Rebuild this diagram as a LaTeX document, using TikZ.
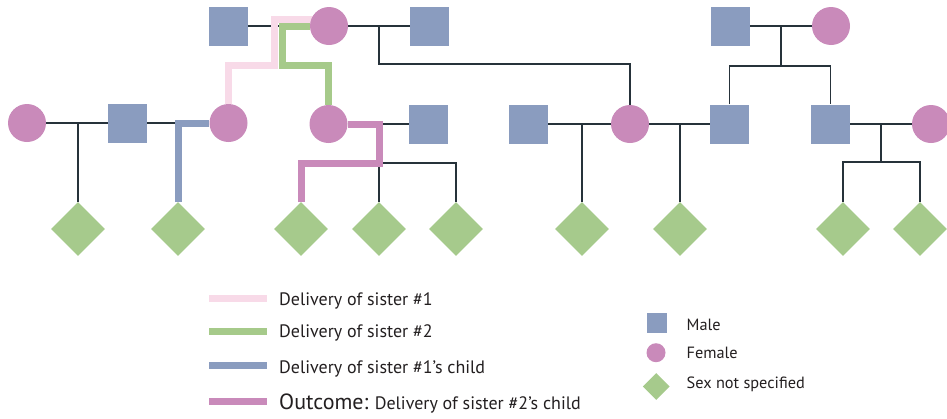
\documentclass[tikz,border=0pt]{standalone}
\usepackage{fontspec}
\setmainfont{PT Sans}
\usetikzlibrary{shapes.geometric,calc,backgrounds}

\definecolor{malefill}{HTML}{8A9CBF}
\definecolor{femalefill}{HTML}{C98ABA}
\definecolor{unknownfill}{HTML}{A6CA8C}
\definecolor{sisone}{HTML}{F8DAE8}
\definecolor{sistwo}{HTML}{A6CA8A}
\definecolor{childone}{HTML}{8A9CBF}
\definecolor{childtwo}{HTML}{C98ABA}
\definecolor{kin}{HTML}{26323A}
\definecolor{ink}{HTML}{231F20}

\begin{document}
\begin{tikzpicture}[x=1pt,y=-1pt,
  male/.style={rectangle,fill=malefill,minimum size=39pt,inner sep=0pt},
  female/.style={circle,fill=femalefill,minimum size=38pt,inner sep=0pt},
  unk/.style={diamond,fill=unknownfill,minimum size=54pt,inner sep=0pt},
  kinline/.style={draw=kin,line width=1.2pt},
  route/.style={line width=7pt},
  routeone/.style={route,draw=sisone},
  routetwo/.style={route,draw=sistwo},
  routethree/.style={route,draw=childone},
  routefour/.style={route,draw=childtwo},
  legtext/.style={anchor=base west,inner sep=0pt,text=ink,font=\fontsize{18}{21}\selectfont},
  keytext/.style={anchor=base west,inner sep=0pt,text=ink,font=\fontsize{16.3}{19}\selectfont}
]
\useasboundingbox (0,0) rectangle (947,418);

% ---- generation I
\node[male]   (m1) at (228.5,26) {};
\node[female] (f1) at (329,26) {};
\node[male]   (m2) at (429.5,26) {};
\node[male]   (m3) at (730.5,26) {};
\node[female] (f2) at (831,26) {};

% ---- generation II
\node[female] (f3) at (27,123) {};
\node[male]   (m4) at (127.5,123) {};
\node[female] (f4) at (228.5,123) {};
\node[female] (f5) at (328.5,124) {};
\node[male]   (m5) at (428.5,124) {};
\node[male]   (m6) at (528.5,124) {};
\node[female] (f6) at (630,124) {};
\node[male]   (m7) at (729.5,124) {};
\node[male]   (m8) at (830.5,124) {};
\node[female] (f7) at (931,124) {};

% ---- generation III
\foreach \n/\x in {d1/78,d2/178,d3/301,d4/379,d5/456,d6/582,d7/680,d8/843,d9/920}
  \node[unk] (\n) at (\x,229) {};

% ---- junction points
\coordinate (c1) at (379,26);
\coordinate (c2) at (379,64);
\coordinate (c3) at (78,123);
\coordinate (c4) at (379,124);
\coordinate (c5) at (379,163);
\coordinate (c6) at (456,163);
\coordinate (c7) at (582,124);
\coordinate (c8) at (680,124);
\coordinate (c9) at (781,26);
\coordinate (c10) at (781,66);
\coordinate (c11) at (729.5,66);
\coordinate (c12) at (830.5,66);
\coordinate (c13) at (881,124);
\coordinate (c14) at (881,162);
\coordinate (c15) at (843,162);
\coordinate (c16) at (920,162);
\coordinate (p1) at (274,65);
\coordinate (g1) at (282,65);
\coordinate (b1) at (178,123);
\coordinate (q1) at (379,163);

\begin{scope}[on background layer]
  % couples and descent lines
  \draw[kinline] (m1) -- (f1);
  \draw[kinline] (f1) -- (m2);
  \draw[kinline] (c1) |- (c2) -| (f6);
  \draw[kinline] (f3) -- (m4);
  \draw[kinline] (c3) -- (d1);
  \draw[kinline] (m4) -- (f4);
  \draw[kinline] (f5) -- (m5);
  \draw[kinline] (c4) -- (d4);
  \draw[kinline] (c5) -- (c6) -- (d5);
  \draw[kinline] (m6) -- (f6);
  \draw[kinline] (c7) -- (d6);
  \draw[kinline] (f6) -- (m7);
  \draw[kinline] (c8) -- (d7);
  \draw[kinline] (m3) -- (f2);
  \draw[kinline] (c9) -- (c10);
  \draw[kinline] (m7) |- (c11) -- (c12) -| (m8);
  \draw[kinline] (m8) -- (f7);
  \draw[kinline] (c13) -- (c14);
  \draw[kinline] (d8) |- (c15) -- (c16) -| (d9);

  % delivery routes
  \draw[routeone]   ($(f1)+(0,-7)$) -| (p1) -| (f4);
  \draw[routetwo]   (f1) -| (g1) -| (f5);
  \draw[routethree] (f4) -- (b1) -- (d2);
  \draw[routefour]  (f5) -| (q1) -| (d3);
\end{scope}

% ---- route legend
\node[legtext] (l1) at (279,305) {Delivery of sister \#1};
\node[legtext] (l2) at (279,337.5) {Delivery of sister \#2};
\node[legtext] (l3) at (279,373) {Delivery of sister \#1’s child};
\node[legtext] (l4) at (279,409) {{\fontsize{22}{25}\selectfont Outcome:} Delivery of sister \#2’s child};
\coordinate (s1) at (209,298.5);  \coordinate (e1) at (267,298.5);
\coordinate (s2) at (209,331.5);  \coordinate (e2) at (267,331.5);
\coordinate (s3) at (209,365.3);  \coordinate (e3) at (267,365.3);
\coordinate (s4) at (209,401);    \coordinate (e4) at (267,401);
\draw[routeone]   (s1) -- (e1);
\draw[routetwo]   (s2) -- (e2);
\draw[routethree] (s3) -- (e3);
\draw[routefour]  (s4) -- (e4);

% ---- symbol key
\node[male,minimum size=20pt]   (k1) at (657,322.5) {};
\node[female,minimum size=19pt] (k2) at (656,352.7) {};
\node[unk,minimum size=27pt]    (k3) at (656.3,386.5) {};
\node[keytext] (t1) at (686.5,330) {Male};
\node[keytext] (t2) at (686.5,358.3) {Female};
\node[keytext] (t3) at (686.5,388.3) {Sex not specified};
\end{tikzpicture}
\end{document}
